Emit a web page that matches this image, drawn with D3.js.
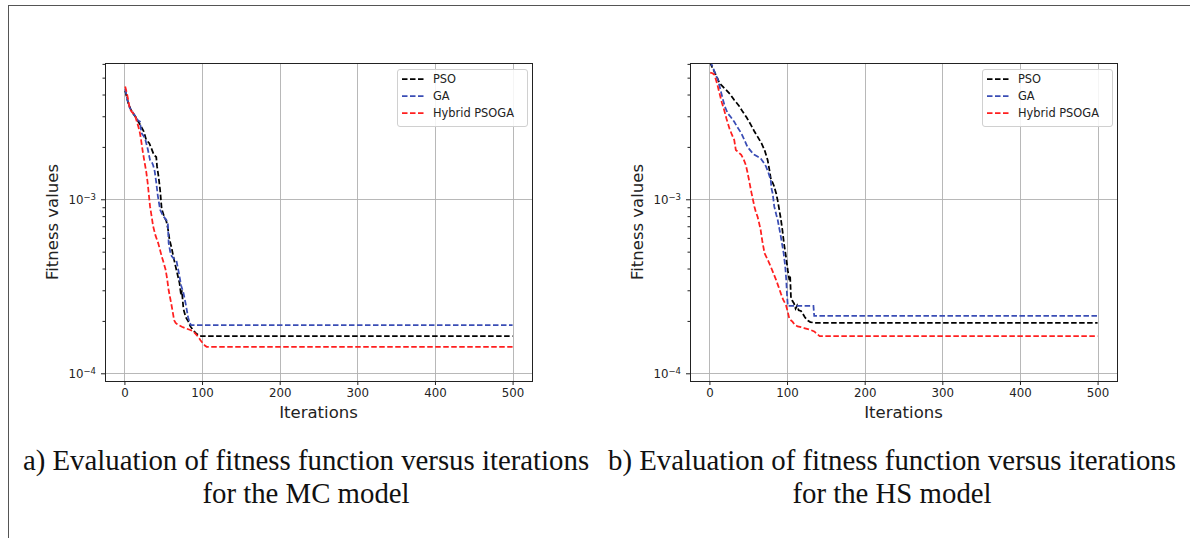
<!DOCTYPE html>
<html>
<head>
<meta charset="utf-8">
<script src="https://cdn.jsdelivr.net/npm/d3@7"></script>
<style>
  html, body { margin: 0; padding: 0; background: #fff; }
  svg { display: block; }
</style>
</head>
<body>
<svg id="fig" width="1190" height="538"></svg>
<script>
// Iteration ticks and log-scale decade ticks
const iterTicks = [0, 100, 200, 300, 400, 500];
const decadeTicks = [1e-4, 1e-3];
const minorTicks = [2e-4, 3e-4, 4e-4, 5e-4, 6e-4, 7e-4, 8e-4, 9e-4,
                    2e-3, 3e-3, 4e-3, 5e-3, 6e-3];
const seriesNames = ["PSO", "GA", "Hybrid PSOGA"];
const seriesColors = ["#000000", "#3a4db5", "#ff1f1f"];

// MC model: best fitness per iteration [iteration, fitness]
const mcPSO = [[1,4.2e-3],[5,3.56e-3],[8,3.3e-3],[11,3.12e-3],[15,2.95e-3],[18,2.79e-3],[22,2.6e-3],
  [25,2.45e-3],[28,2.2e-3],[32,2.1e-3],[35,1.95e-3],[38,1.8e-3],[41,1.75e-3],[42,1.55e-3],[44,1.35e-3],
  [46,1.13e-3],[48,8.8e-4],[51,8.0e-4],[54,7.5e-4],[56,6.8e-4],[58,5.9e-4],[61,5.2e-4],[63,4.7e-4],
  [66,4.1e-4],[69,3.6e-4],[71,3.3e-4],[73,2.8e-4],[74,3.0e-4],[76,2.35e-4],[79,2.1e-4],[82,2.0e-4],
  [85,1.86e-4],[88,1.78e-4],[92,1.7e-4],[96,1.65e-4],[99,1.636e-4],[500,1.636e-4]];
const mcGA = [[1,4.3e-3],[4,3.7e-3],[7,3.35e-3],[10,3.2e-3],[14,3.0e-3],[17,2.85e-3],[20,2.8e-3],
  [22,2.4e-3],[25,2.3e-3],[27,2.2e-3],[30,1.95e-3],[33,1.68e-3],[35,1.65e-3],[37,1.57e-3],[39,1.45e-3],
  [41,1.25e-3],[43,1.05e-3],[46,8.7e-4],[50,8.0e-4],[54,7.6e-4],[56,7.2e-4],[57,5.6e-4],[59,5.0e-4],
  [61,4.7e-4],[64,4.55e-4],[67,4.45e-4],[69,4.0e-4],[71,3.6e-4],[73,3.2e-4],[76,2.9e-4],[79,2.5e-4],
  [82,2.1e-4],[84,1.95e-4],[86,1.89e-4],[500,1.89e-4]];
const mcHybrid = [[1,4.45e-3],[3,4.1e-3],[5,3.72e-3],[7,3.3e-3],[9.5,3.18e-3],[12,3.1e-3],[14,2.99e-3],
  [16,2.8e-3],[18,2.61e-3],[20,2.4e-3],[21.5,2.19e-3],[23.5,1.9e-3],[25.5,1.68e-3],[28,1.45e-3],
  [30,1.24e-3],[33,9.1e-4],[35,8e-4],[37,7.0e-4],[40,6.2e-4],[43.5,5.6e-4],[46,5.1e-4],[48,4.7e-4],
  [50,4.4e-4],[53,3.95e-4],[55,3.5e-4],[57,3.0e-4],[59,2.7e-4],[61,2.42e-4],[63,2.15e-4],[64,2.02e-4],
  [66,1.95e-4],[69,1.9e-4],[74,1.85e-4],[78,1.82e-4],[84,1.78e-4],[88,1.75e-4],[92,1.68e-4],
  [95,1.62e-4],[98,1.55e-4],[101,1.49e-4],[104,1.44e-4],[106,1.42e-4],[500,1.42e-4]];

// HS model: best fitness per iteration [iteration, fitness]
const hsPSO = [[1,6.1e-3],[3,5.8e-3],[6.5,5.4e-3],[10,5.0e-3],[13,4.64e-3],[17,4.45e-3],[21.5,4.25e-3],
  [27,4.0e-3],[32,3.72e-3],[38,3.45e-3],[43,3.18e-3],[48,2.95e-3],[53.6,2.67e-3],[58,2.45e-3],
  [62,2.29e-3],[67,2.1e-3],[71,1.92e-3],[75,1.68e-3],[77,1.5e-3],[79,1.32e-3],[83,1.2e-3],[86,1.08e-3],
  [88,9.8e-4],[90,8.7e-4],[92,7.7e-4],[94,6.66e-4],[96,5.6e-4],[98.6,4.68e-4],[101,3.9e-4],
  [103,3.43e-4],[104,3.6e-4],[105,2.75e-4],[107,2.6e-4],[109,2.52e-4],[111,2.35e-4],[113,2.45e-4],
  [115,2.3e-4],[118,2.28e-4],[120,2.21e-4],[123,2.1e-4],[126,2.02e-4],[130,1.97e-4],[135,1.95e-4],
  [500,1.95e-4]];
const hsGA = [[1,6.2e-3],[4,5.8e-3],[8,5.2e-3],[11,4.85e-3],[14,4.3e-3],[17,3.8e-3],[20,3.4e-3],
  [23.6,3.12e-3],[28,2.95e-3],[32,2.79e-3],[36,2.6e-3],[41,2.4e-3],[45,2.2e-3],[49,2.0e-3],
  [54,1.88e-3],[58,1.8e-3],[62,1.76e-3],[66,1.72e-3],[70,1.62e-3],[73,1.54e-3],[76,1.42e-3],
  [79,1.29e-3],[80,1.15e-3],[81.5,1.08e-3],[83.5,9.1e-4],[86,8.2e-4],[88,7.6e-4],[90,6.8e-4],
  [92,6.1e-4],[94,5.4e-4],[95.6,4.9e-4],[97.7,4.1e-4],[99,3.43e-4],[100,2.8e-4],[101,2.44e-4],
  [134,2.44e-4],[135,2.14e-4],[500,2.14e-4]];
const hsHybrid = [[1,5.35e-3],[4,5.3e-3],[6.5,5.2e-3],[10,4.6e-3],[13,4.06e-3],[16,3.6e-3],[19,3.26e-3],
  [22,2.9e-3],[25.7,2.56e-3],[29,2.35e-3],[32,2.19e-3],[34,1.92e-3],[38,1.85e-3],[41,1.8e-3],
  [44,1.7e-3],[47,1.57e-3],[49,1.43e-3],[51,1.29e-3],[54,1.1e-3],[58,9.06e-4],[60,8.4e-4],
  [62,7.95e-4],[64,7.3e-4],[66,6.66e-4],[68,5.8e-4],[71,4.9e-4],[75,4.5e-4],[79,4.1e-4],[82,3.8e-4],
  [86,3.43e-4],[89,3.15e-4],[92,2.88e-4],[95,2.65e-4],[98.6,2.47e-4],[101,2.25e-4],[103,2.05e-4],
  [107,1.98e-4],[110,1.9e-4],[113.6,1.86e-4],[118,1.84e-4],[122,1.82e-4],[128,1.79e-4],[135,1.74e-4],
  [139,1.68e-4],[142,1.636e-4],[500,1.636e-4]];

const captionsA = ["a) Evaluation of fitness function versus iterations", "for the MC model"];
const captionsB = ["b) Evaluation of fitness function versus iterations", "for the HS model"];

const svg = d3.select("#fig");
const sans = "'DejaVu Sans', sans-serif";

// Page frame (top and left rules)
svg.append("line").attr("x1", 8).attr("y1", 5.5).attr("x2", 1190).attr("y2", 5.5)
  .attr("stroke", "#555").attr("stroke-width", 1);
svg.append("line").attr("x1", 8.5).attr("y1", 5).attr("x2", 8.5).attr("y2", 538)
  .attr("stroke", "#555").attr("stroke-width", 1);

function drawPanel(left, series, captions, capCx, id) {
  const top = 63, width = 427, height = 318;
  const x = d3.scaleLinear().domain([-25, 525]).range([left, left + width]);
  const y = d3.scaleLog().domain([9.03e-5, 6.07e-3]).range([top + height, top]);
  const g = svg.append("g");

  // grid
  g.selectAll(".gx").data(iterTicks).join("line")
    .attr("x1", d => Math.round(x(d)) + 0.5).attr("x2", d => Math.round(x(d)) + 0.5)
    .attr("y1", top).attr("y2", top + height)
    .attr("stroke", "#b0b0b0").attr("stroke-width", 0.9);
  g.selectAll(".gy").data(decadeTicks).join("line")
    .attr("x1", left).attr("x2", left + width)
    .attr("y1", d => Math.round(y(d)) + 0.5).attr("y2", d => Math.round(y(d)) + 0.5)
    .attr("stroke", "#b0b0b0").attr("stroke-width", 0.9);

  // curves
  g.append("clipPath").attr("id", id).append("rect")
    .attr("x", left).attr("y", top).attr("width", width).attr("height", height);
  const line = d3.line().x(d => x(d[0])).y(d => y(d[1]));
  series.forEach((s, i) => {
    g.append("path").datum(s).attr("d", line)
      .attr("clip-path", `url(#${id})`)
      .attr("fill", "none").attr("stroke", seriesColors[i])
      .attr("stroke-width", 1.75).attr("stroke-dasharray", "5.5,2.5");
  });

  // axes
  const xAxis = d3.axisBottom(x).tickValues(iterTicks).tickSize(4).tickPadding(4);
  const gx = g.append("g").attr("transform", `translate(0,${top + height})`).call(xAxis);
  gx.select(".domain").remove();
  gx.selectAll("line").attr("stroke", "#222");
  gx.selectAll("text").attr("font-family", sans).attr("font-size", 11.8).attr("fill", "#222");

  const yMinor = d3.axisLeft(y).tickValues(minorTicks).tickSize(2.5).tickFormat("");
  const gym = g.append("g").attr("transform", `translate(${left},0)`).call(yMinor);
  gym.select(".domain").remove();
  gym.selectAll("line").attr("stroke", "#222");

  const yAxis = d3.axisLeft(y).tickValues(decadeTicks).tickSize(4).tickPadding(4).tickFormat("");
  const gy = g.append("g").attr("transform", `translate(${left},0)`).call(yAxis);
  gy.select(".domain").remove();
  gy.selectAll("line").attr("stroke", "#222");
  gy.selectAll(".tick").each(function (d) {
    const t = d3.select(this).append("text")
      .attr("x", -9).attr("dy", "0.32em").attr("text-anchor", "end")
      .attr("font-family", sans).attr("font-size", 11.8).attr("fill", "#222");
    t.append("tspan").text("10");
    t.append("tspan").attr("dy", "-0.45em").attr("font-size", 8.5).text("\u2212" + Math.round(-Math.log10(d)));
  });

  // frame
  g.append("rect").attr("x", left + 0.5).attr("y", top + 0.5).attr("width", width).attr("height", height)
    .attr("fill", "none").attr("stroke", "#222").attr("stroke-width", 1);

  // axis titles
  g.append("text").attr("x", left + width / 2).attr("y", top + height + 37)
    .attr("text-anchor", "middle").attr("font-family", sans).attr("font-size", 16.5)
    .attr("fill", "#222").text("Iterations");
  g.append("text").attr("transform", `translate(${left - 47},${top + height / 2}) rotate(-90)`)
    .attr("text-anchor", "middle").attr("font-family", sans).attr("font-size", 16.5)
    .attr("fill", "#222").text("Fitness values");

  // legend
  const lw = 130, lh = 57;
  const lx = left + width - 5 - lw, ly = top + 6;
  const lg = g.append("g");
  lg.append("rect").attr("x", lx + 0.5).attr("y", ly + 0.5).attr("width", lw).attr("height", lh)
    .attr("rx", 2.5).attr("fill", "#fff").attr("fill-opacity", 0.85)
    .attr("stroke", "#d0d0d0").attr("stroke-width", 1);
  seriesNames.forEach((name, i) => {
    const cy = ly + 10 + i * 17;
    lg.append("line").attr("x1", lx + 5).attr("x2", lx + 28).attr("y1", cy).attr("y2", cy)
      .attr("stroke", seriesColors[i]).attr("stroke-width", 1.75).attr("stroke-dasharray", "5.5,2.5");
    lg.append("text").attr("x", lx + 36).attr("y", cy).attr("dy", "0.35em")
      .attr("font-family", sans).attr("font-size", 11.4).attr("fill", "#222").text(name);
  });

  // caption
  captions.forEach((c, i) => {
    svg.append("text").attr("x", capCx).attr("y", 470 + i * 33)
      .attr("text-anchor", "middle").attr("font-family", "'Liberation Serif', 'Times New Roman', serif")
      .attr("font-size", 28.8).attr("fill", "#111").text(c);
  });
}

drawPanel(105, [mcPSO, mcGA, mcHybrid], captionsA, 306, "clipA");
drawPanel(690, [hsPSO, hsGA, hsHybrid], captionsB, 892, "clipB");
</script>
</body>
</html>
